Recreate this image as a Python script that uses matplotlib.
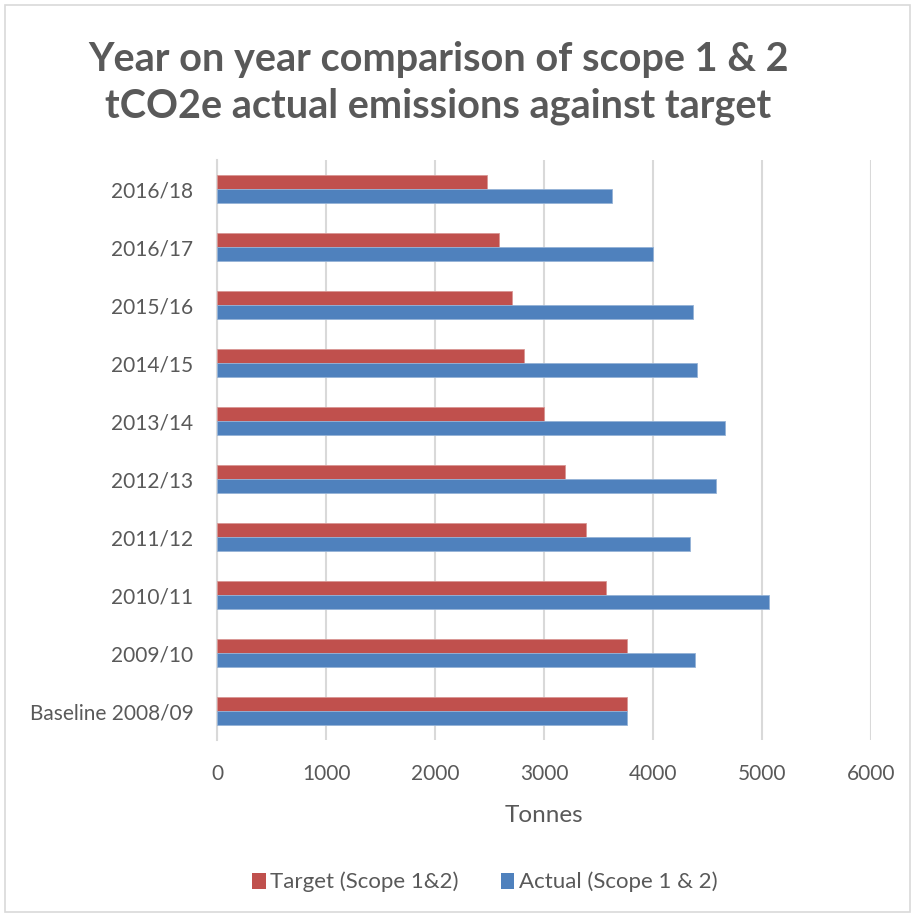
import numpy as np
import matplotlib.pyplot as plt
from matplotlib.patches import Patch, Rectangle

# 数据（从下到上）
years = ['Baseline 2008/09', '2009/10', '2010/11', '2011/12', '2012/13',
         '2013/14', '2014/15', '2015/16', '2016/17', '2016/18']
target = [3758, 3758, 3568, 3382, 3192, 3003, 2817, 2704, 2590, 2480]
actual = [3758, 4387, 5064, 4341, 4581, 4656, 4405, 4363, 4002, 3623]

red = '#c0504d'
blue = '#4f81bd'
grey_text = '#595959'
grid_col = '#d9d9d9'

plt.rcParams['font.family'] = ['Lato', 'DejaVu Sans']

fig = plt.figure(figsize=(9.15, 9.16), dpi=100)
ax = fig.add_axes([0.2372, 0.1921, 0.7148, 0.6332])

y = np.arange(len(years))
h = 0.24
ax.barh(y + h / 2, target, height=h, color=red, edgecolor='#d99694', linewidth=0.6,
        label='Target (Scope 1&2)', zorder=3)
ax.barh(y - h / 2, actual, height=h, color=blue, edgecolor='#95b3d7', linewidth=0.6,
        label='Actual (Scope 1 & 2)', zorder=3)

ax.set_xlim(0, 6000)
ax.set_ylim(-0.5, len(years) - 0.5)
ax.set_xticks(range(0, 6001, 1000))
ax.set_yticks(y)
ax.set_yticklabels(years)
ax.tick_params(axis='both', length=0, labelsize=15, colors=grey_text)
ax.tick_params(axis='y', pad=17)
ax.tick_params(axis='x', pad=17.5)
ax.grid(axis='x', color=grid_col, linewidth=1.5, zorder=0)
for s in ['top', 'right', 'bottom']:
    ax.spines[s].set_visible(False)
ax.spines['left'].set_color(grid_col)
ax.spines['left'].set_linewidth(1.5)

ax.set_xlabel('Tonnes', fontsize=17.5, color=grey_text, labelpad=15)

fig.text(0.479, 0.909, 'Year on year comparison of scope 1 & 2\ntCO2e actual emissions against target',
         ha='center', va='center', fontsize=28.5, fontweight='bold', color=grey_text,
         linespacing=1.32)

handles = [Patch(facecolor=red), Patch(facecolor=blue)]
fig.legend(handles, ['Target (Scope 1&2)', 'Actual (Scope 1 & 2)'], loc='center',
           bbox_to_anchor=(0.53, 0.037), ncol=2, frameon=False, fontsize=16,
           handlelength=0.6, handleheight=0.75, handletextpad=0.2, columnspacing=1.9,
           labelcolor=grey_text)

# 图表外框
fig.patches.append(Rectangle((0.005, 0.004), 0.99, 0.99, transform=fig.transFigure,
                             fill=False, edgecolor=grid_col, linewidth=1.2))

plt.savefig('out.png', dpi=100)
